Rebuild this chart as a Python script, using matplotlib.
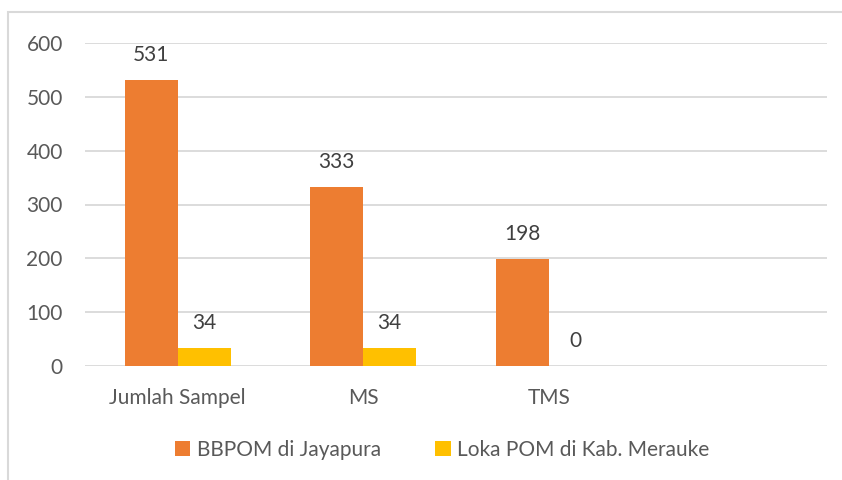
import numpy as np
import matplotlib
matplotlib.use("Agg")
import matplotlib.pyplot as plt
from matplotlib.patches import Rectangle

categories = ["Jumlah Sampel", "MS", "TMS", ""]
bbpom = [531, 333, 198]
loka = [34, 34, 0]
series_names = ["BBPOM di Jayapura", "Loka POM di Kab. Merauke"]
yticks = [0, 100, 200, 300, 400, 500, 600]

plt.rcParams['font.family'] = ['Lato', 'DejaVu Sans']
txt = '#595959'
fs = 15

W, H = 842, 480
fig = plt.figure(figsize=(W / 100, H / 100), dpi=100)
ax = fig.add_axes([85 / W, 1 - 366 / H, (827 - 85) / W, (366 - 43) / H])

# chart border
fig.patches.append(Rectangle((8 / W, -0.1), 1.2, 1 - 12 / H + 0.1,
                             transform=fig.transFigure, fill=False,
                             edgecolor='#d9d9d9', linewidth=1.5))

x = np.arange(len(categories))
w = 0.2857
b1 = ax.bar(x[:3] - w / 2, bbpom, w, color='#ED7D31', label=series_names[0], zorder=3)
b2 = ax.bar(x[:3] + w / 2, loka, w, color='#FFC000', label=series_names[1], zorder=3)

for bars, vals in ((b1, bbpom), (b2, loka)):
    for r, v in zip(bars, vals):
        ax.annotate(str(v), (r.get_x() + r.get_width() / 2, v),
                    xytext=(0, 18), textcoords='offset points',
                    ha='center', va='center', fontsize=fs, color='#404040')

ax.set_xlim(-0.5, 3.5)
ax.set_ylim(0, 600)
ax.set_yticks(yticks)
ax.set_xticks(x[:3])
ax.set_xticklabels(categories[:3])
ax.tick_params(axis='both', length=0, labelsize=fs, labelcolor=txt)
ax.tick_params(axis='x', pad=16)
ax.tick_params(axis='y', pad=16)
ax.grid(axis='y', color='#d9d9d9', linewidth=1.3, zorder=0)
for s in ax.spines.values():
    s.set_visible(False)

fig.legend(loc='center', bbox_to_anchor=(442 / W, 1 - 450 / H), ncol=2,
           frameon=False, fontsize=fs, labelcolor=txt, handlelength=0.75,
           handleheight=0.75, handletextpad=0.3, columnspacing=2.6)

fig.savefig('out.png', dpi=100)
